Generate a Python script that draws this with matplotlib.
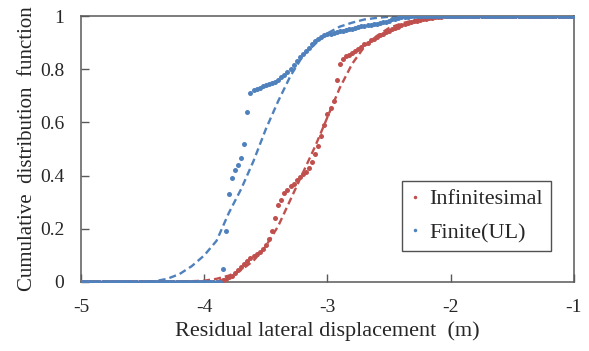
import numpy as np
import matplotlib
matplotlib.use("Agg")
import matplotlib.pyplot as plt

plt.rcParams['font.family'] = ['Liberation Serif', 'DejaVu Serif']

# Sample grid of residual lateral displacement (m)
x_start, x_step, n_pts = -5.0, 0.025, 161

# Finite (UL) empirical CDF values on the grid
finite_cdf = [
    0, 0, 0, 0, 0, 0, 0, 0, 0, 0,
    0, 0, 0, 0, 0, 0, 0, 0, 0, 0,
    0, 0, 0, 0, 0, 0, 0, 0, 0, 0,
    0, 0, 0, 0, 0, 0, 0, 0, 0, 0,
    0, 0, 0, 0, 0, 0,
    0.05, 0.19, 0.33, 0.39, 0.42, 0.44, 0.465, 0.52, 0.64, 0.71,
    0.72, 0.725, 0.73, 0.735, 0.74, 0.745, 0.75, 0.752, 0.76, 0.77,
    0.778, 0.788, 0.80, 0.815, 0.83, 0.845, 0.857, 0.867, 0.88, 0.895,
    0.905, 0.915, 0.922, 0.927, 0.931, 0.934, 0.937, 0.94, 0.942, 0.945,
    0.947, 0.95, 0.953, 0.956, 0.958, 0.961, 0.963, 0.965, 0.967, 0.969,
    0.971, 0.973, 0.976, 0.979, 0.983, 0.987, 0.99, 0.993, 0.995, 0.997,
    0.998, 0.999,
    1, 1, 1, 1, 1, 1, 1, 1, 1, 1,
    1, 1, 1, 1, 1, 1, 1, 1, 1, 1,
    1, 1, 1, 1, 1, 1, 1, 1, 1, 1,
    1, 1, 1, 1, 1, 1, 1, 1, 1, 1,
    1, 1, 1, 1, 1, 1, 1, 1, 1, 1,
    1, 1, 1,
]

# Infinitesimal empirical CDF values on the grid
infinitesimal_cdf = [
    0, 0, 0, 0, 0, 0, 0, 0, 0, 0,
    0, 0, 0, 0, 0, 0, 0, 0, 0, 0,
    0, 0, 0, 0, 0, 0, 0, 0, 0, 0,
    0, 0, 0, 0, 0, 0, 0, 0, 0, 0,
    0, 0, 0, 0, 0,
    0.003, 0.008, 0.013, 0.018, 0.024, 0.032, 0.045, 0.058, 0.068, 0.078,
    0.09, 0.097, 0.104, 0.113, 0.125, 0.14, 0.16, 0.19, 0.24, 0.29,
    0.31, 0.335, 0.345, 0.36, 0.37, 0.385, 0.395, 0.405, 0.415, 0.43,
    0.45, 0.48, 0.51, 0.55, 0.59, 0.63, 0.655, 0.68, 0.76, 0.82,
    0.84, 0.85, 0.855, 0.862, 0.87, 0.877, 0.885, 0.893, 0.90, 0.908,
    0.915, 0.922, 0.928, 0.934, 0.94, 0.945, 0.95, 0.955, 0.96, 0.965,
    0.969, 0.973, 0.977, 0.98, 0.983, 0.986, 0.988, 0.99, 0.992, 0.994,
    0.996, 0.997, 0.998, 0.999,
    1, 1, 1, 1, 1, 1, 1, 1, 1, 1,
    1, 1, 1, 1, 1, 1, 1, 1, 1, 1,
    1, 1, 1, 1, 1, 1, 1, 1, 1, 1,
    1, 1, 1, 1, 1, 1, 1, 1, 1, 1,
    1, 1,
]

# Fitted CDF curves (dashed)
fit_x = [-5.0, -4.5, -4.4, -4.3, -4.2, -4.1, -4.0, -3.9, -3.8, -3.7, -3.6,
         -3.5, -3.4, -3.3, -3.2, -3.1, -3.0, -2.9, -2.8, -2.7, -2.6, -2.5,
         -2.4, -2.3, -2.2, -2.1, -2.0, -1.8, -1.0]
finite_fit = [0.0, 0.0, 0.003, 0.012, 0.03, 0.06, 0.10, 0.155, 0.26, 0.35, 0.455,
              0.575, 0.68, 0.775, 0.85, 0.895, 0.935, 0.96, 0.975, 0.987, 0.993, 0.997,
              0.999, 1.0, 1.0, 1.0, 1.0, 1.0, 1.0]
infinitesimal_fit = [0.0, 0.0, 0.0, 0.0, 0.001, 0.003, 0.005, 0.012, 0.024, 0.045, 0.08,
                     0.135, 0.21, 0.31, 0.41, 0.51, 0.62, 0.73, 0.82, 0.885, 0.925, 0.955,
                     0.972, 0.984, 0.992, 0.996, 0.998, 1.0, 1.0]

x_ticks = [-5, -4, -3, -2, -1]
y_ticks = [0, 0.2, 0.4, 0.6, 0.8, 1]
y_ticklabels = ['0', '0.2', '0.4', '0.6', '0.8', '1']

red = '#C0504D'
blue = '#4F81BD'
text_color = '#262626'

grid_x = np.round(x_start + x_step * np.arange(n_pts), 4)

fig = plt.figure(figsize=(5.89, 3.51), dpi=100)
ax = fig.add_axes([0.1375, 0.1966, 0.8370, 0.7578])

ax.plot(fit_x, infinitesimal_fit, color=red, lw=1.7, ls=(0, (3.0, 1.7)), zorder=2)
ax.plot(fit_x, finite_fit, color=blue, lw=1.7, ls=(0, (3.0, 1.7)), zorder=2)
ax.plot(grid_x, infinitesimal_cdf, 'o', color=red, ms=3.6, mew=0,
        label='Infinitesimal', zorder=3)
ax.plot(grid_x, finite_cdf, 'o', color=blue, ms=3.6, mew=0,
        label='Finite(UL)', zorder=4)

ax.set_xlim(-5, -1)
ax.set_ylim(0, 1)
ax.set_xticks(x_ticks)
ax.set_xticklabels([str(v) for v in x_ticks])
ax.set_yticks(y_ticks)
ax.set_yticklabels(y_ticklabels)
ax.tick_params(axis='both', direction='in', length=5.5, width=1, color='#595959',
               labelsize=14, labelcolor=text_color)
ax.tick_params(axis='x', pad=12)
ax.tick_params(axis='y', pad=12)
for s in ax.spines.values():
    s.set_color('#595959')
    s.set_linewidth(1.1)

ax.set_xlabel('Residual lateral displacement  (m)', fontsize=16, color=text_color, labelpad=4)
ax.set_ylabel('Cumulative  distribution  function', fontsize=15, color=text_color, labelpad=2)

leg = ax.legend(loc='center', bbox_to_anchor=(0.802, 0.248), fontsize=16,
                frameon=True, fancybox=False, edgecolor='#262626',
                handlelength=0.5, handletextpad=0.4, markerscale=0.7,
                borderpad=0.35, labelspacing=0.6)
leg.get_frame().set_linewidth(1.0)
for t in leg.get_texts():
    t.set_color(text_color)

fig.savefig('out.png', dpi=100)
